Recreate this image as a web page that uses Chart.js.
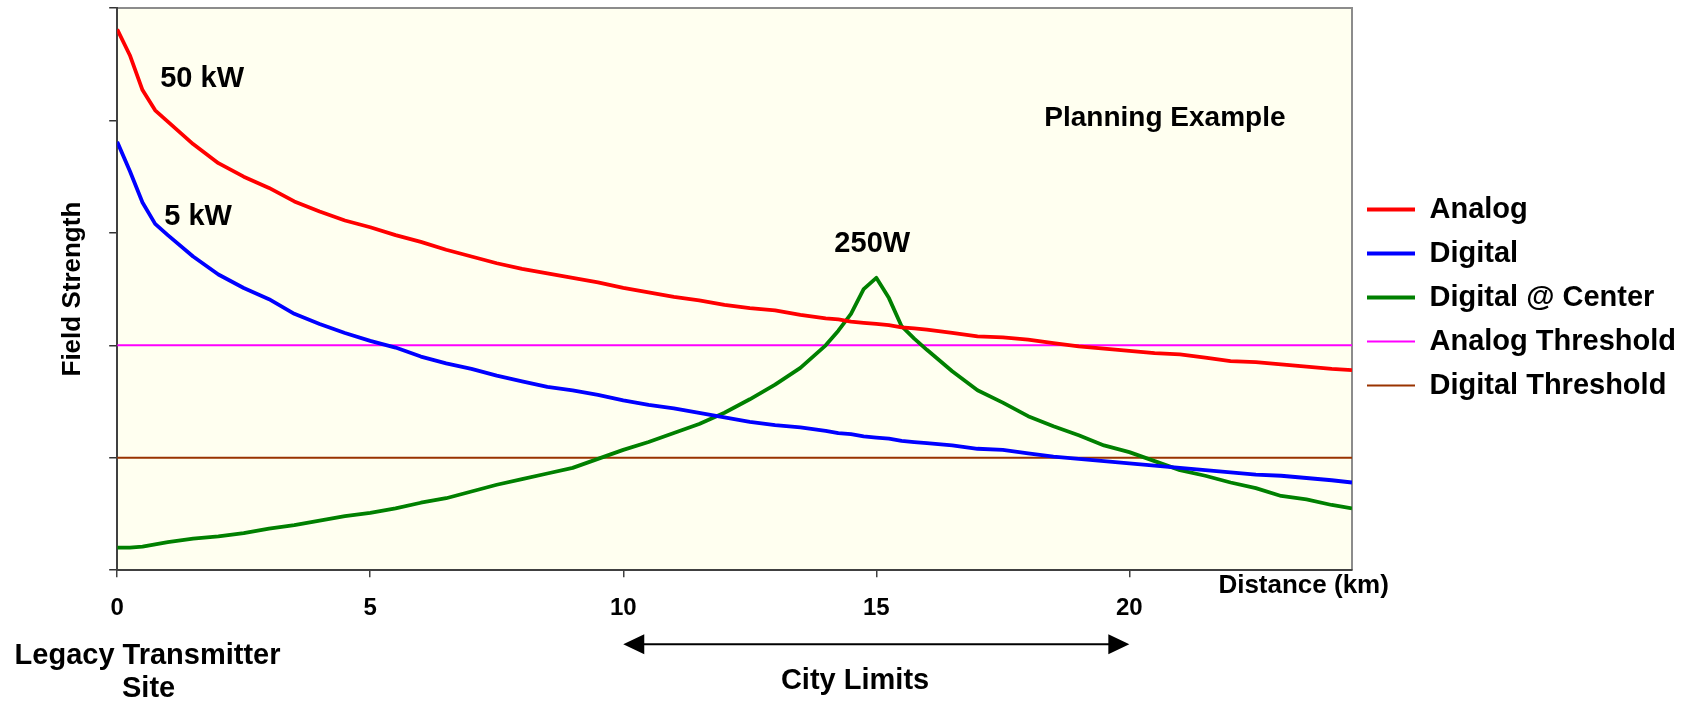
<!DOCTYPE html>
<html>
<head>
<meta charset="utf-8">
<title>Field Strength - Planning Example</title>
<script src="https://cdn.jsdelivr.net/npm/chart.js@4.4.1/dist/chart.umd.min.js"></script>
<style>
  html, body { margin: 0; padding: 0; background: #fff; }
</style>
</head>
<body>
<canvas id="fieldChart" width="1686" height="704"></canvas>
<script>
// distance from the legacy transmitter site (km)
const distance = [0, 0.25, 0.5, 0.75, 1, 1.5, 2, 2.5, 3, 3.5, 4, 4.5, 5, 5.5, 6, 6.5, 7, 7.5, 8, 8.5,
  9, 9.5, 10, 10.5, 11, 11.5, 12, 12.5, 13, 13.5, 14, 14.25, 14.5, 14.75, 15, 15.25, 15.5, 15.75, 16,
  16.5, 17, 17.5, 18, 18.5, 19, 19.5, 20, 20.5, 21, 21.5, 22, 22.5, 23, 23.5, 24, 24.4];

// field strength, relative units
const analog = [4.81, 4.58, 4.27, 4.09, 3.99, 3.79, 3.62, 3.50, 3.40, 3.28, 3.19, 3.11, 3.05, 2.98, 2.92,
  2.85, 2.79, 2.73, 2.68, 2.64, 2.60, 2.56, 2.51, 2.47, 2.43, 2.40, 2.36, 2.33, 2.31, 2.27, 2.24, 2.23,
  2.21, 2.20, 2.19, 2.18, 2.16, 2.15, 2.14, 2.11, 2.08, 2.07, 2.05, 2.02, 1.99, 1.97, 1.95, 1.93, 1.92,
  1.89, 1.86, 1.85, 1.83, 1.81, 1.79, 1.78];
const digital = [3.81, 3.55, 3.27, 3.08, 2.98, 2.79, 2.63, 2.51, 2.41, 2.28, 2.19, 2.11, 2.04, 1.98, 1.90,
  1.84, 1.79, 1.73, 1.68, 1.63, 1.60, 1.56, 1.51, 1.47, 1.44, 1.40, 1.36, 1.32, 1.29, 1.27, 1.24, 1.22,
  1.21, 1.19, 1.18, 1.17, 1.15, 1.14, 1.13, 1.11, 1.08, 1.07, 1.04, 1.01, 0.99, 0.97, 0.95, 0.93, 0.91,
  0.89, 0.87, 0.85, 0.84, 0.82, 0.80, 0.78];
const digitalCenter = [0.20, 0.20, 0.21, 0.23, 0.25, 0.28, 0.30, 0.33, 0.37, 0.40, 0.44, 0.48, 0.51, 0.55,
  0.60, 0.64, 0.70, 0.76, 0.81, 0.86, 0.91, 0.99, 1.07, 1.14, 1.22, 1.30, 1.40, 1.52, 1.65, 1.80, 2.00,
  2.13, 2.28, 2.50, 2.60, 2.42, 2.17, 2.06, 1.96, 1.77, 1.60, 1.49, 1.37, 1.28, 1.20, 1.11, 1.05, 0.97,
  0.89, 0.84, 0.78, 0.73, 0.66, 0.63, 0.58, 0.55];

const analogThreshold = 2;
const digitalThreshold = 1;

const xTicks = [0, 5, 10, 15, 20];
const yTicks = [0, 1, 2, 3, 4, 5];

const FONT = '"Liberation Sans", Arial, sans-serif';

function pairs(values) {
  return distance.map((d, i) => ({x: d, y: values[i]}));
}
function flat(level) {
  return [{x: distance[0], y: level}, {x: distance[distance.length - 1], y: level}];
}

// plot background, frame and the hand placed notes
const notes = {
  id: 'notes',
  beforeDraw(chart) {
    const {ctx, chartArea: a} = chart;
    ctx.save();
    ctx.fillStyle = '#FFFFF0';
    ctx.fillRect(a.left, a.top, a.right - a.left, a.bottom - a.top);
    ctx.strokeStyle = '#8c8c8c';
    ctx.lineWidth = 2;
    ctx.beginPath();
    ctx.moveTo(a.left, a.top);
    ctx.lineTo(a.right, a.top);
    ctx.lineTo(a.right, a.bottom);
    ctx.stroke();
    ctx.restore();
  },
  afterDraw(chart) {
    const {ctx, chartArea: a, scales: {x, y}} = chart;
    const font = s => 'bold ' + s + 'px ' + FONT;
    ctx.save();
    ctx.fillStyle = '#000';
    ctx.textBaseline = 'alphabetic';

    ctx.font = font(29);
    ctx.textAlign = 'left';
    ctx.fillText('50 kW', x.getPixelForValue(0.85), y.getPixelForValue(4.3));
    ctx.fillText('5 kW', x.getPixelForValue(0.93), y.getPixelForValue(3.07));
    ctx.textAlign = 'center';
    ctx.fillText('250W', x.getPixelForValue(14.92), y.getPixelForValue(2.83));

    ctx.font = font(28);
    ctx.textAlign = 'left';
    ctx.fillText('Planning Example', x.getPixelForValue(18.32), y.getPixelForValue(3.95));

    ctx.font = font(26);
    ctx.fillText('Distance (km)', x.getPixelForValue(21.76), a.bottom + 23);

    // city limits arrow
    const ay = a.bottom + 74;
    const x1 = x.getPixelForValue(10);
    const x2 = x.getPixelForValue(20);
    ctx.strokeStyle = '#000';
    ctx.lineWidth = 2;
    ctx.beginPath();
    ctx.moveTo(x1 + 18, ay);
    ctx.lineTo(x2 - 18, ay);
    ctx.stroke();
    ctx.beginPath();
    ctx.moveTo(x1, ay);
    ctx.lineTo(x1 + 21, ay - 10);
    ctx.lineTo(x1 + 21, ay + 10);
    ctx.closePath();
    ctx.moveTo(x2, ay);
    ctx.lineTo(x2 - 21, ay - 10);
    ctx.lineTo(x2 - 21, ay + 10);
    ctx.closePath();
    ctx.fill();

    ctx.font = font(29);
    ctx.textAlign = 'center';
    ctx.fillText('City Limits', x.getPixelForValue(14.58), a.bottom + 119);
    ctx.fillText('Legacy Transmitter', x.getPixelForValue(0.6), a.bottom + 94);
    ctx.fillText('Site', x.getPixelForValue(0.62), a.bottom + 127);
    ctx.restore();
  }
};

Chart.defaults.font.family = FONT;
Chart.defaults.font.weight = 'bold';
Chart.defaults.color = '#000';

const ctx = document.getElementById('fieldChart');
new Chart(ctx, {
  type: 'line',
  data: {
    datasets: [
      {label: 'Analog', data: pairs(analog), borderColor: '#FF0000', borderWidth: 3.8},
      {label: 'Digital', data: pairs(digital), borderColor: '#0000FF', borderWidth: 3.8},
      {label: 'Digital @ Center', data: pairs(digitalCenter), borderColor: '#008000', borderWidth: 3.8},
      {label: 'Analog Threshold', data: flat(analogThreshold), borderColor: '#FF00FF', borderWidth: 2},
      {label: 'Digital Threshold', data: flat(digitalThreshold), borderColor: '#993300', borderWidth: 2}
    ]
  },
  options: {
    responsive: false,
    animation: false,
    devicePixelRatio: 1,
    elements: {
      point: {radius: 0},
      line: {tension: 0, fill: false, borderJoinStyle: 'round'}
    },
    layout: {padding: {left: 0, top: 8, right: 0, bottom: 64}},
    scales: {
      x: {
        type: 'linear',
        min: 0,
        max: 24.4,
        afterBuildTicks: scale => { scale.ticks = xTicks.map(v => ({value: v})); },
        ticks: {font: {size: 24, weight: 'bold'}, color: '#000', padding: 17, maxRotation: 0},
        grid: {drawOnChartArea: false, tickLength: 7, color: '#404040', lineWidth: 1.5},
        border: {color: '#404040', width: 2}
      },
      y: {
        min: 0,
        max: 5,
        afterBuildTicks: scale => { scale.ticks = yTicks.map(v => ({value: v})); },
        ticks: {display: false},
        grid: {drawOnChartArea: false, tickLength: 8, color: '#333', lineWidth: 1.5},
        border: {color: '#404040', width: 2},
        title: {
          display: true,
          text: 'Field Strength',
          font: {size: 26, weight: 'bold'},
          color: '#000',
          padding: {top: 57, bottom: 21}
        }
      }
    },
    plugins: {
      tooltip: {enabled: false},
      legend: {
        position: 'right',
        align: 'start',
        // empty title only used to push the entries down to mid height
        title: {display: true, text: '', padding: {top: 160, bottom: 0}, font: {size: 10}},
        labels: {
          usePointStyle: true,
          pointStyle: 'line',
          pointStyleWidth: 48,
          padding: 15,
          color: '#000',
          font: {size: 29, weight: 'bold'}
        }
      }
    }
  },
  plugins: [notes]
});
</script>
</body>
</html>
